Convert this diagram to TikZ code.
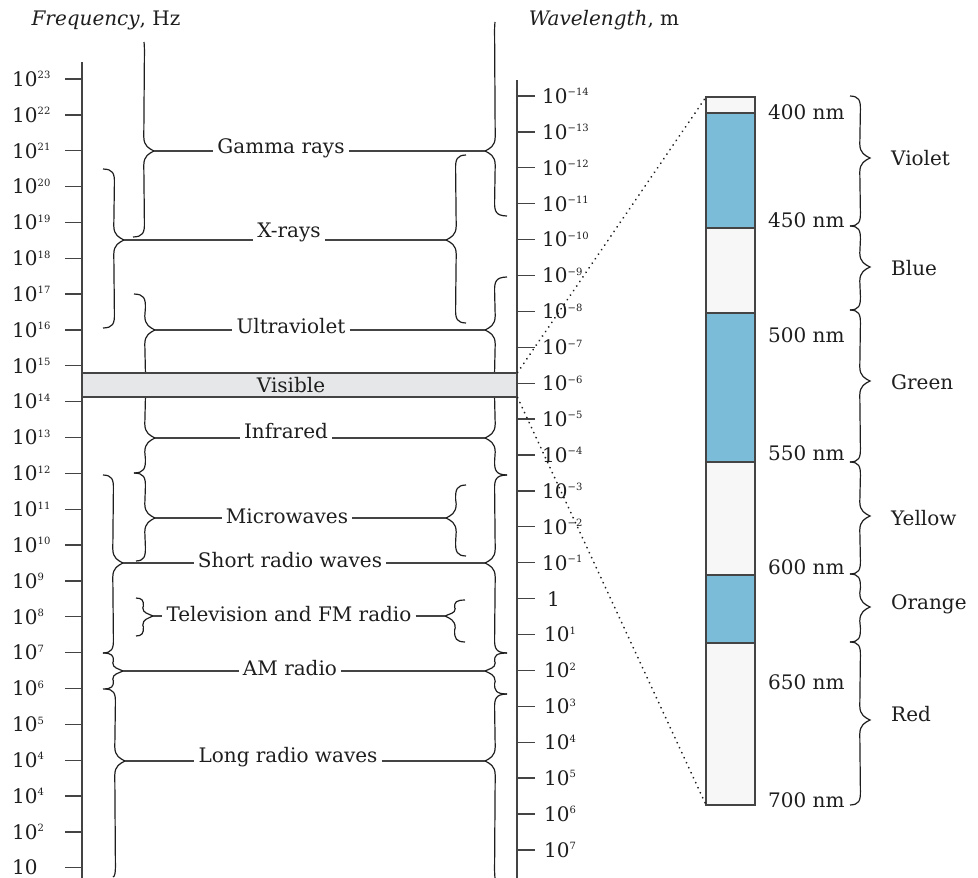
\documentclass[tikz,border=0pt]{standalone}
\usepackage{fontspec}
\setmainfont{DejaVu Serif}
\definecolor{barblue}{HTML}{7BBCD9}
\definecolor{barlight}{HTML}{F7F7F7}
\definecolor{visfill}{HTML}{E6E7E8}
\definecolor{ink}{HTML}{1E1E1E}
\definecolor{axcol}{HTML}{444444}
\newcommand\pw[1]{10\raisebox{7.5pt}{\fontsize{10}{10}\selectfont #1}}
% x0, ytop, ytip, ybot, dir, curl top, curl bottom, tip name
\newcommand\brc[8]{%
 \pgfmathsetmacro\ra{min(14,(#3-#2)/2.2)}%
 \pgfmathsetmacro\rb{min(14,(#4-#3)/2.2)}%
 \draw[bracestyle] ({#1-(#5)*(#6)},#2)
   .. controls ({#1-(#5)*(#6)*0.1},{#2+0.02*\ra}) and ({#1+(#5)*0.6},{#2+0.3*\ra}) .. ({#1+(#5)*0.4},{#2+\ra})
   .. controls ({#1+(#5)*0.2},{(#2+#3)/2}) and ({#1-(#5)*0.4},{(#2+#3)/2}) .. ({#1-(#5)*0.2},{#3-\ra})
   .. controls ({#1-(#5)*0.1},{#3-0.35*\ra}) and ({#1+(#5)*5},{#3-2.5}) .. ({#1+(#5)*10},#3) coordinate (#8)
   .. controls ({#1+(#5)*5},{#3+2.5}) and ({#1-(#5)*0.1},{#3+0.35*\rb}) .. ({#1-(#5)*0.2},{#3+\rb})
   .. controls ({#1-(#5)*0.4},{(#3+#4)/2}) and ({#1+(#5)*0.2},{(#3+#4)/2}) .. ({#1+(#5)*0.4},{#4-\rb})
   .. controls ({#1+(#5)*0.6},{#4-0.3*\rb}) and ({#1-(#5)*(#7)*0.1},{#4-0.02*\rb}) .. ({#1-(#5)*(#7)},#4);}
\begin{document}
\begin{tikzpicture}[x=1pt,y=-1pt,
  lbl/.style={font=\fontsize{20}{24}\selectfont, inner sep=4pt, text=ink},
  axlbl/.style={font=\fontsize{20}{24}\selectfont, inner sep=2pt, anchor=west, text=ink},
  bracestyle/.style={draw=ink, line width=1.2pt},
  conn/.style={draw=axcol, line width=1.2pt},
  axline/.style={draw=axcol, line width=1.4pt},
  tick/.style={draw=axcol, line width=1.3pt},
  seg/.style={draw=axcol, line width=1.2pt, minimum width=49pt, inner sep=0pt, outer sep=0pt},
  dots/.style={draw=ink, line width=2pt, line cap=round, dash pattern=on 0.01pt off 5.5pt}]
\useasboundingbox (0,0) rectangle (978,878);

% headings
\node[lbl] (fh) at (106,20) {\textit{Frequency}, Hz};
\node[lbl] (wh) at (604,20) {\textit{Wavelength}, m};

% left axis
\coordinate (lat) at (82,62);
\coordinate (lab) at (82,878);
\draw[axline] (lat) -- (lab);
\foreach \e [count=\i from 0] in {23,22,21,20,19,18,17,16,15,14,13,12,11,10,9,8,7,6,5,4,4,2} {
  \node[axlbl] (f\i) at (10,{79+35.85*\i}) {\pw{\e}};
  \draw[tick] (65,{79+35.85*\i}) -- (82,{79+35.85*\i});
}
\node[axlbl] (f22) at (10,{79+35.85*22}) {10};
\draw[tick] (65,{79+35.85*22}) -- (82,{79+35.85*22});

% right axis
\coordinate (rat) at (517,80);
\coordinate (rab) at (517,878);
\draw[axline] (rat) -- (rab);
\foreach \e [count=\i from 0] in {−14,−13,−12,−11,−10,−9,−8,−7,−6,−5,−4,−3,−2,−1} {
  \node[axlbl] (w\i) at (540,{96+35.9*\i}) {\pw{\e}};
  \draw[tick] (517,{96+35.9*\i}) -- (535,{96+35.9*\i});
}
\node[axlbl] (w14) at (545,{96+35.9*14}) {1};
\draw[tick] (517,{96+35.9*14}) -- (535,{96+35.9*14});
\foreach \e [count=\i from 15] in {1,2,3,4,5,6,7} {
  \node[axlbl] (w\i) at (542,{96+35.9*\i}) {\pw{\e}};
  \draw[tick] (517,{96+35.9*\i}) -- (535,{96+35.9*\i});
}

% left braces (tip right)
\brc{144}{42}{151}{237}{1}{0}{11}{gL}
\brc{114}{169}{240}{328}{1}{11}{11}{xL}
\brc{145}{294}{330}{385}{1}{11}{0}{uL}
\brc{145}{385}{438}{473}{1}{0}{11}{iL}
\brc{145}{473}{518}{561}{1}{11}{9}{mL}
\brc{113}{475}{563}{653}{1}{10}{10}{sL}
\brc{143}{598}{616}{636}{1}{7}{7}{tL}
\brc{113}{653}{671}{689}{1}{10}{10}{aL}
\brc{115}{689}{761}{877}{1}{10}{2}{lL}

% right braces (tip left)
\brc{495}{22}{151}{216}{-1}{0}{12}{gR}
\brc{456}{155}{240}{323}{-1}{10}{10}{xR}
\brc{495}{277}{330}{385}{-1}{12}{0}{uR}
\brc{495}{385}{438}{475}{-1}{0}{12}{iR}
\brc{456}{485}{518}{556}{-1}{10}{10}{mR}
\brc{495}{475}{563}{653}{-1}{12}{12}{sR}
\brc{455}{600}{616}{642}{-1}{10}{10}{tR}
\brc{495}{653}{671}{694}{-1}{12}{12}{aR}
\brc{495}{694}{761}{878}{-1}{12}{0}{lR}

% band labels and leader lines
\node[lbl] (gam) at (281,148) {Gamma rays};
\node[lbl] (xr)  at (289,232) {X-rays};
\node[lbl] (uv)  at (291,326) {Ultraviolet};
\node[lbl] (ir)  at (286,431) {Infrared};
\node[lbl] (mw)  at (287,516) {Microwaves};
\node[lbl] (sw)  at (290,560) {Short radio waves};
\node[lbl] (tv)  at (289,614) {Television and FM radio};
\node[lbl] (am)  at (290,668) {AM radio};
\node[lbl] (lw)  at (288,757) {Long radio waves};
\foreach \n/\l/\r in {gam/gL/gR, xr/xL/xR, uv/uL/uR, ir/iL/iR, mw/mL/mR, sw/sL/sR, tv/tL/tR, am/aL/aR, lw/lL/lR} {
  \draw[conn] (\l) -- (\l -| \n.west);
  \draw[conn] (\r -| \n.east) -- (\r);
}

% visible band
\node[draw=axcol, fill=visfill, line width=1.2pt, minimum width=435pt, minimum height=24pt, inner sep=0pt] (vis) at (299.5,385) {};
\node[lbl] (vist) at (291,385) {Visible};

% spectrum bar
\node[seg, fill=barlight, minimum height=16pt]  (s1) at (730.5,105) {};
\node[seg, fill=barblue,  minimum height=115pt] (s2) at (730.5,170.5) {};
\node[seg, fill=barlight, minimum height=85pt]  (s3) at (730.5,270.5) {};
\node[seg, fill=barblue,  minimum height=149pt] (s4) at (730.5,387.5) {};
\node[seg, fill=barlight, minimum height=113pt] (s5) at (730.5,518.5) {};
\node[seg, fill=barblue,  minimum height=68pt]  (s6) at (730.5,609) {};
\node[seg, fill=barlight, minimum height=162pt] (s7) at (730.5,724) {};

\draw[dots] (vis.north east) -- (s1.north west);
\draw[dots] (vis.south east) -- (s7.south west);

% wavelength labels
\foreach \t/\y [count=\k] in {400/112, 450/220, 500/335, 550/453, 600/567, 650/682, 700/800} {
  \node[lbl, anchor=west, inner sep=0pt] (nm\k) at (768,\y) {\t\ nm};
}

% colour braces
\brc{860}{96}{158}{226}{1}{10}{10}{cV}
\brc{860}{226}{267}{310}{1}{10}{10}{cB}
\brc{860}{310}{381}{462}{1}{10}{10}{cG}
\brc{860}{462}{516}{574}{1}{10}{10}{cY}
\brc{860}{574}{607}{642}{1}{10}{10}{cO}
\brc{860}{642}{720}{805}{1}{10}{10}{cR}

\node[lbl, anchor=west, inner sep=0pt] (viol) at (891,158) {Violet};
\node[lbl, anchor=west, inner sep=0pt] (blue) at (891,268) {Blue};
\node[lbl, anchor=west, inner sep=0pt] (gree) at (891,382) {Green};
\node[lbl, anchor=west, inner sep=0pt] (yell) at (891,518) {Yellow};
\node[lbl, anchor=west, inner sep=0pt] (oran) at (891,604) {Orange};
\node[lbl, anchor=west, inner sep=0pt] (redd) at (891,714) {Red};
\end{tikzpicture}
\end{document}
